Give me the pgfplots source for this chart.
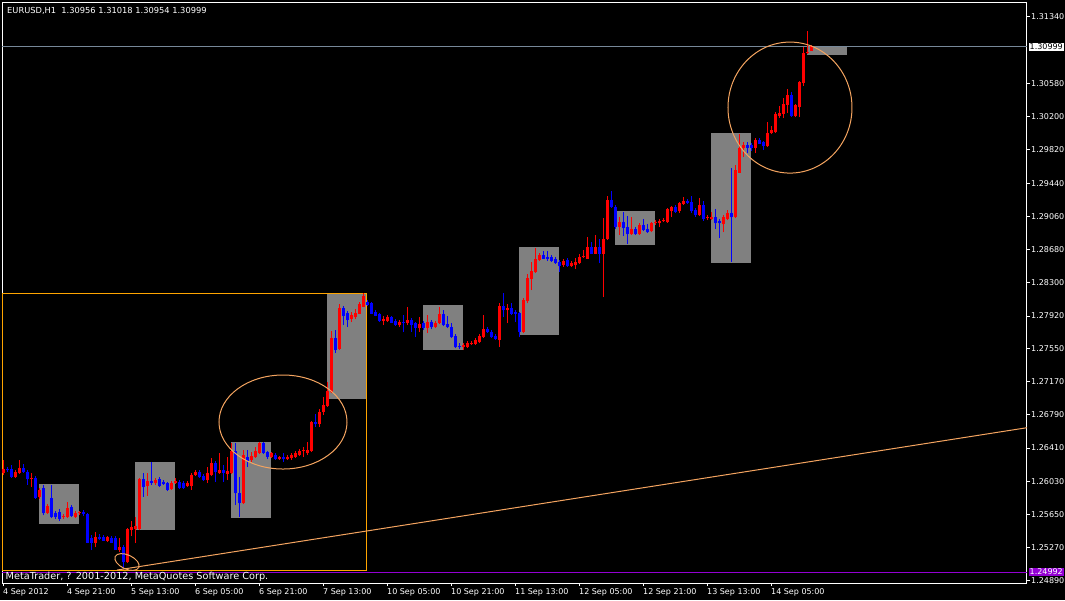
\documentclass[border=0pt]{standalone}
\usepackage{pgfplots}
\pgfplotsset{compat=1.18}
\usepackage{pgfplotstable}
\usepackage{fontspec}
\setmainfont{DejaVu Sans}

\definecolor{mtgray}{RGB}{128,128,128}
\definecolor{sandy}{RGB}{244,164,96}
\definecolor{mtorange}{RGB}{255,165,0}
\definecolor{bidline}{RGB}{119,136,153}
\definecolor{mtviolet}{RGB}{148,0,211}
\definecolor{bull}{RGB}{255,0,0}
\definecolor{bear}{RGB}{0,0,255}

% EURUSD H1 bars: index, open, high, low, close
\pgfplotstableread{
i o h l c
0 1.26125 1.26274 1.26102 1.26171
1 1.26171 1.26194 1.26137 1.26159
2 1.26171 1.26217 1.26068 1.26080
3 1.26080 1.26159 1.26068 1.26137
4 1.26125 1.26274 1.26114 1.26182
5 1.26182 1.26228 1.26125 1.26137
6 1.26137 1.26159 1.25988 1.26057
7 1.26057 1.26125 1.25965 1.26068
8 1.26068 1.26091 1.25828 1.25839
9 1.25851 1.25954 1.25828 1.25931
10 1.25954 1.25988 1.25644 1.25667
11 1.25667 1.25770 1.25656 1.25747
12 1.25839 1.25988 1.25610 1.25622
13 1.25667 1.25690 1.25599 1.25622
14 1.25679 1.25713 1.25576 1.25599
15 1.25622 1.25656 1.25599 1.25633
16 1.25622 1.25793 1.25610 1.25725
17 1.25736 1.25759 1.25622 1.25633
18 1.25622 1.25690 1.25610 1.25667
19 1.25667 1.25690 1.25644 1.25679
20 1.25679 1.25702 1.25633 1.25656
21 1.25656 1.25667 1.25324 1.25335
22 1.25381 1.25416 1.25244 1.25335
23 1.25324 1.25450 1.25278 1.25393
24 1.25393 1.25427 1.25358 1.25370
25 1.25393 1.25416 1.25347 1.25358
26 1.25358 1.25404 1.25335 1.25393
27 1.25381 1.25404 1.25324 1.25335
28 1.25381 1.25404 1.25244 1.25255
29 1.25255 1.25381 1.25221 1.25278
30 1.25278 1.25301 1.25038 1.25107
31 1.25107 1.25496 1.25095 1.25484
32 1.25473 1.25576 1.25404 1.25507
33 1.25484 1.25622 1.25324 1.25519
34 1.25484 1.26068 1.25473 1.26057
35 1.26057 1.26125 1.25851 1.25965
36 1.25977 1.26125 1.25862 1.26034
37 1.26034 1.26251 1.25988 1.26011
38 1.26011 1.26068 1.25988 1.26045
39 1.26057 1.26080 1.25965 1.25977
40 1.26022 1.26045 1.25988 1.26000
41 1.26000 1.26022 1.25919 1.25931
42 1.25942 1.26034 1.25931 1.26011
43 1.26011 1.26068 1.26000 1.26034
44 1.26022 1.26045 1.25942 1.25954
45 1.26011 1.26034 1.25942 1.25954
46 1.25977 1.26034 1.25965 1.26011
47 1.25977 1.26125 1.25931 1.26102
48 1.26102 1.26159 1.26091 1.26137
49 1.26137 1.26159 1.26068 1.26080
50 1.26091 1.26114 1.26034 1.26045
51 1.26045 1.26194 1.26011 1.26125
52 1.26102 1.26297 1.26091 1.26240
53 1.26240 1.26262 1.26022 1.26137
54 1.26125 1.26354 1.26114 1.26159
55 1.26159 1.26217 1.26022 1.26125
56 1.26114 1.26308 1.26045 1.26148
57 1.26125 1.26468 1.26114 1.26377
58 1.26377 1.26468 1.25759 1.25896
59 1.25896 1.26080 1.25622 1.25782
60 1.25782 1.26388 1.25770 1.26331
61 1.26308 1.26388 1.26194 1.26262
62 1.26274 1.26365 1.26251 1.26320
63 1.26308 1.26423 1.26297 1.26377
64 1.26354 1.26480 1.26342 1.26468
65 1.26468 1.26480 1.26342 1.26354
66 1.26365 1.26377 1.26285 1.26308
67 1.26308 1.26365 1.26297 1.26354
68 1.26331 1.26354 1.26274 1.26285
69 1.26285 1.26320 1.26274 1.26308
70 1.26308 1.26354 1.26251 1.26285
71 1.26285 1.26331 1.26274 1.26308
72 1.26297 1.26354 1.26274 1.26331
73 1.26308 1.26377 1.26297 1.26354
74 1.26331 1.26400 1.26320 1.26377
75 1.26377 1.26423 1.26308 1.26388
76 1.26354 1.26480 1.26331 1.26388
77 1.26377 1.26720 1.26365 1.26708
78 1.26708 1.26800 1.26651 1.26686
79 1.26686 1.26857 1.26651 1.26823
80 1.26823 1.26994 1.26788 1.26903
81 1.26891 1.27165 1.26880 1.27062
82 1.27051 1.27748 1.27039 1.27668
83 1.27668 1.27760 1.27497 1.27531
84 1.27543 1.28057 1.27531 1.28011
85 1.28011 1.28034 1.27817 1.27931
86 1.27954 1.27977 1.27794 1.27874
87 1.27886 1.27966 1.27851 1.27931
88 1.27909 1.28000 1.27886 1.27954
89 1.27954 1.28080 1.27943 1.28057
90 1.28034 1.28183 1.28023 1.28149
91 1.28080 1.28103 1.28034 1.28046
92 1.28069 1.28080 1.27943 1.27954
93 1.27966 1.27989 1.27920 1.27931
94 1.27943 1.27954 1.27851 1.27863
95 1.27863 1.27920 1.27817 1.27886
96 1.27863 1.27931 1.27851 1.27909
97 1.27909 1.27920 1.27840 1.27851
98 1.27863 1.27886 1.27806 1.27817
99 1.27817 1.27874 1.27794 1.27851
100 1.27851 1.27931 1.27737 1.27840
101 1.27840 1.28023 1.27817 1.27874
102 1.27874 1.27897 1.27737 1.27817
103 1.27840 1.27851 1.27680 1.27783
104 1.27783 1.27909 1.27737 1.27829
105 1.27840 1.27863 1.27760 1.27783
106 1.27783 1.27931 1.27726 1.27851
107 1.27851 1.27874 1.27771 1.27794
108 1.27794 1.27863 1.27783 1.27840
109 1.27840 1.28023 1.27829 1.27943
110 1.27943 1.27989 1.27806 1.27817
111 1.27829 1.27920 1.27783 1.27794
112 1.27794 1.27840 1.27668 1.27680
113 1.27691 1.27714 1.27554 1.27566
114 1.27577 1.27611 1.27543 1.27566
115 1.27566 1.27611 1.27531 1.27588
116 1.27566 1.27634 1.27554 1.27611
117 1.27600 1.27634 1.27588 1.27611
118 1.27600 1.27668 1.27588 1.27646
119 1.27623 1.27714 1.27611 1.27691
120 1.27680 1.27931 1.27668 1.27771
121 1.27771 1.27794 1.27726 1.27737
122 1.27737 1.27760 1.27668 1.27680
123 1.27691 1.27714 1.27646 1.27657
124 1.27646 1.28069 1.27566 1.28034
125 1.28034 1.28183 1.27909 1.27989
126 1.27989 1.28057 1.27840 1.28011
127 1.28011 1.28069 1.27931 1.27954
128 1.27966 1.27989 1.27851 1.27954
129 1.27954 1.27966 1.27680 1.27748
130 1.27748 1.28126 1.27726 1.28103
131 1.28092 1.28401 1.28069 1.28355
132 1.28343 1.28538 1.28217 1.28435
133 1.28423 1.28698 1.28412 1.28572
134 1.28561 1.28640 1.28549 1.28618
135 1.28618 1.28663 1.28572 1.28583
136 1.28595 1.28663 1.28549 1.28572
137 1.28595 1.28618 1.28538 1.28549
138 1.28572 1.28595 1.28515 1.28526
139 1.28538 1.28561 1.28423 1.28492
140 1.28503 1.28572 1.28481 1.28549
141 1.28561 1.28583 1.28481 1.28492
142 1.28492 1.28549 1.28481 1.28526
143 1.28503 1.28583 1.28458 1.28538
144 1.28526 1.28629 1.28515 1.28595
145 1.28595 1.28675 1.28583 1.28606
146 1.28583 1.28824 1.28572 1.28709
147 1.28709 1.28766 1.28629 1.28640
148 1.28640 1.28847 1.28629 1.28709
149 1.28709 1.28801 1.28526 1.28640
150 1.28629 1.29041 1.28137 1.28801
151 1.28801 1.29292 1.28789 1.29247
152 1.29247 1.29349 1.29155 1.29167
153 1.29167 1.29190 1.28915 1.28938
154 1.28938 1.29052 1.28847 1.28995
155 1.28995 1.29110 1.28835 1.28927
156 1.28938 1.29064 1.28743 1.28858
157 1.28858 1.29052 1.28847 1.28915
158 1.28915 1.28938 1.28847 1.28858
159 1.28858 1.28984 1.28847 1.28961
160 1.28961 1.29030 1.28892 1.28904
161 1.28915 1.28972 1.28870 1.28881
162 1.28892 1.28995 1.28881 1.28984
163 1.28984 1.29018 1.28961 1.28995
164 1.28984 1.29030 1.28938 1.29007
165 1.29007 1.29041 1.28995 1.29018
166 1.28995 1.29155 1.28984 1.29144
167 1.29121 1.29178 1.29052 1.29167
168 1.29167 1.29190 1.29098 1.29110
169 1.29121 1.29224 1.29098 1.29213
170 1.29201 1.29281 1.29190 1.29236
171 1.29236 1.29258 1.29201 1.29213
172 1.29224 1.29292 1.29098 1.29121
173 1.29133 1.29155 1.29052 1.29075
174 1.29075 1.29270 1.29064 1.29190
175 1.29190 1.29236 1.29007 1.29030
176 1.29041 1.29075 1.29018 1.29052
177 1.29030 1.29110 1.29018 1.29052
178 1.29052 1.29144 1.28915 1.28984
179 1.29007 1.29030 1.28812 1.28984
180 1.28972 1.29075 1.28881 1.29052
181 1.29030 1.29133 1.29018 1.29098
182 1.29098 1.29612 1.28538 1.29052
183 1.29052 1.29647 1.29041 1.29589
184 1.29566 1.30001 1.29555 1.29841
185 1.29841 1.29910 1.29738 1.29875
186 1.29875 1.29910 1.29784 1.29841
187 1.29875 1.29898 1.29807 1.29841
188 1.29841 1.29956 1.29784 1.29933
189 1.29933 1.29956 1.29887 1.29898
190 1.29910 1.29921 1.29818 1.29864
191 1.29864 1.30139 1.29853 1.30013
192 1.30013 1.30093 1.30001 1.30047
193 1.30024 1.30253 1.30013 1.30230
194 1.30218 1.30321 1.30184 1.30241
195 1.30241 1.30413 1.30184 1.30344
196 1.30344 1.30516 1.30241 1.30448
197 1.30448 1.30482 1.30195 1.30207
198 1.30207 1.30344 1.30195 1.30333
199 1.30321 1.30608 1.30195 1.30596
200 1.30585 1.30997 1.30551 1.30928
201 1.30928 1.31179 1.30917 1.30939
202 1.30956 1.31018 1.30954 1.30999
}\bars

\begin{document}
\begin{tikzpicture}[font=\fontsize{8pt}{9.6pt}\selectfont]
\fill[black] (0,0) rectangle (1065pt,600pt);
\useasboundingbox (0,0) rectangle (1065pt,600pt);
\begin{axis}[
  at={(2.5pt,17pt)}, anchor=south west,
  scale only axis, width=1024.5pt, height=580pt,
  xmin=-0.25, xmax=255.875, ymin=1.24867, ymax=1.31500,
  axis line style={white, line width=1pt},
  xtick pos=left, ytick pos=right,
  tick align=outside, major tick length=3pt,
  tick style={white, line width=1pt},
  xtick={0,16,32,48,64,80,96,112,128,144,160,176,192},
  xticklabels={4 Sep 2012, 4 Sep 21:00, 5 Sep 13:00, 6 Sep 05:00, 6 Sep 21:00, 7 Sep 13:00, 10 Sep 05:00, 10 Sep 21:00, 11 Sep 13:00, 12 Sep 05:00, 12 Sep 21:00, 13 Sep 13:00, 14 Sep 05:00},
  xticklabel style={anchor=north west, inner sep=0pt, xshift=-0.5pt, yshift=-2pt},
  ytick={1.31340,1.30580,1.30200,1.29820,1.29440,1.29060,1.28680,1.28300,1.27920,1.27550,1.27170,1.26790,1.26410,1.26030,1.25650,1.25270,1.24890},
  yticklabels={1.31340,1.30580,1.30200,1.29820,1.29440,1.29060,1.28680,1.28300,1.27920,1.27550,1.27170,1.26790,1.26410,1.26030,1.25650,1.25270,1.24890},
  yticklabel style={anchor=west, inner sep=0pt, xshift=1pt},
  ticklabel style={text=white},
  scaled y ticks=false,
  clip=false,
]
% daily range boxes
\addplot[fill=mtgray, draw=none, forget plot] coordinates {(8.875,1.25542) (18.875,1.25542) (18.875,1.25999) (8.875,1.25999)} --cycle;
\addplot[fill=mtgray, draw=none, forget plot] coordinates {(32.875,1.25473) (42.875,1.25473) (42.875,1.26251) (32.875,1.26251)} --cycle;
\addplot[fill=mtgray, draw=none, forget plot] coordinates {(56.875,1.25610) (66.875,1.25610) (66.875,1.26479) (56.875,1.26479)} --cycle;
\addplot[fill=mtgray, draw=none, forget plot] coordinates {(80.875,1.26971) (90.875,1.26971) (90.875,1.28183) (80.875,1.28183)} --cycle;
\addplot[fill=mtgray, draw=none, forget plot] coordinates {(104.875,1.27531) (114.875,1.27531) (114.875,1.28046) (104.875,1.28046)} --cycle;
\addplot[fill=mtgray, draw=none, forget plot] coordinates {(128.875,1.27703) (138.875,1.27703) (138.875,1.28709) (128.875,1.28709)} --cycle;
\addplot[fill=mtgray, draw=none, forget plot] coordinates {(152.875,1.28732) (162.875,1.28732) (162.875,1.29121) (152.875,1.29121)} --cycle;
\addplot[fill=mtgray, draw=none, forget plot] coordinates {(176.875,1.28526) (186.875,1.28526) (186.875,1.30013) (176.875,1.30013)} --cycle;
\addplot[fill=mtgray, draw=none, forget plot] coordinates {(200.875,1.30905) (210.875,1.30905) (210.875,1.30997) (200.875,1.30997)} --cycle;

% range rectangle and trend line
\addplot[mtorange, line width=1pt, forget plot] coordinates {(-0.125,1.25015) (90.875,1.25015) (90.875,1.28183) (-0.125,1.28183)} --cycle;
\addplot[sandy, line width=1pt, forget plot] coordinates {(28.375,1.25015) (255.875,1.26643)};

% bid and level lines
\addplot[bidline, line width=1pt, forget plot] coordinates {(-0.25,1.30999) (255.875,1.30999)};
\addplot[mtviolet, line width=1pt, forget plot] coordinates {(-0.25,1.24992) (255.875,1.24992)};

% wicks
\addplot[draw=none, mark=none, forget plot, restrict y to domain=1.2:1.4,
  error bars/.cd, y dir=plus, y explicit, error mark=none,
  error bar style={draw=bull, line width=1pt}]
  table[x=i, y expr={\thisrow{c}>\thisrow{o} ? \thisrow{l} : 5},
        y error plus expr={\thisrow{h}-\thisrow{l}}] {\bars};
\addplot[draw=none, mark=none, forget plot, restrict y to domain=1.2:1.4,
  error bars/.cd, y dir=plus, y explicit, error mark=none,
  error bar style={draw=bear, line width=1pt}]
  table[x=i, y expr={\thisrow{c}>\thisrow{o} ? 5 : \thisrow{l}},
        y error plus expr={\thisrow{h}-\thisrow{l}}] {\bars};
% bodies
\addplot[draw=none, mark=none, forget plot, restrict y to domain=1.2:1.4,
  error bars/.cd, y dir=plus, y explicit, error mark=none,
  error bar style={draw=bull, line width=3pt}]
  table[x=i, y expr={\thisrow{c}>\thisrow{o} ? \thisrow{o}-0.00005 : 5},
        y error plus expr={abs(\thisrow{c}-\thisrow{o})+0.0001}] {\bars};
\addplot[draw=none, mark=none, forget plot, restrict y to domain=1.2:1.4,
  error bars/.cd, y dir=plus, y explicit, error mark=none,
  error bar style={draw=bear, line width=3pt}]
  table[x=i, y expr={\thisrow{c}>\thisrow{o} ? 5 : \thisrow{c}-0.00005},
        y error plus expr={abs(\thisrow{c}-\thisrow{o})+0.0001}] {\bars};

% hand-drawn ellipses
\draw[sandy, line width=1pt] (axis cs:69.875,1.26708) ellipse [x radius=64pt, y radius=47pt];
\draw[sandy, line width=1pt] (axis cs:196.625,1.30304) ellipse [x radius=62pt, y radius=65.5pt];
\draw[sandy, line width=1pt] (axis cs:30.875,1.25107) ellipse [x radius=13pt, y radius=7pt, rotate=-25];

% labels
\node[anchor=west, inner sep=0pt, text=white, xshift=4.5pt, yshift=-7.5pt, font=\fontsize{8.3pt}{10pt}\selectfont] at (rel axis cs:0,1) {EURUSD,H1\ \ 1.30956 1.31018 1.30954 1.30999};
\node[anchor=west, inner sep=0pt, text=white, xshift=3pt, yshift=6.5pt, font=\fontsize{9.7pt}{11pt}\selectfont] at (rel axis cs:0,0) {MetaTrader, ? 2001-2012, MetaQuotes Software Corp.};
\node[anchor=west, fill=white, text=black, inner xsep=1pt, inner ysep=1.2pt, xshift=1.5pt] at (axis cs:255.875,1.30999) {1.30999};
\node[anchor=west, fill=mtviolet, text=white, inner xsep=1pt, inner ysep=1.2pt, xshift=1.5pt] at (axis cs:255.875,1.24992) {1.24992};
\end{axis}
\end{tikzpicture}
\end{document}
